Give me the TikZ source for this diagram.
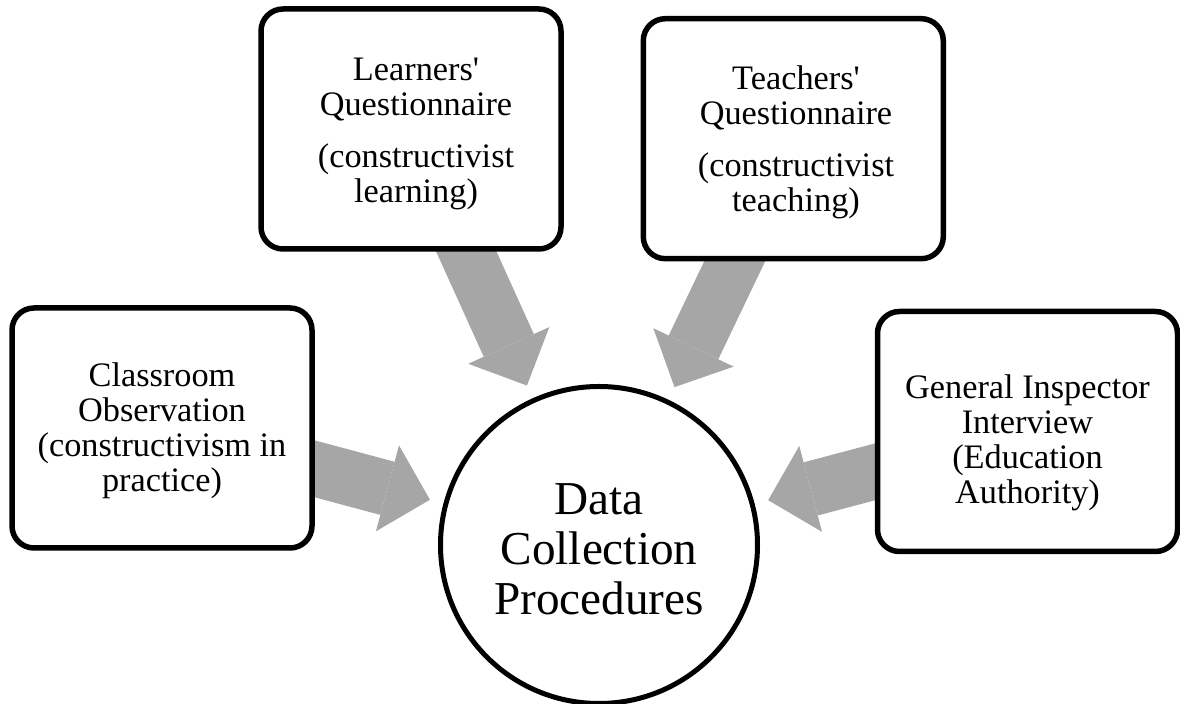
\documentclass[tikz,border=0pt]{standalone}
\usepackage{fontspec}
\setmainfont{Liberation Serif}
\usetikzlibrary{arrows.meta,backgrounds}
\definecolor{arrowgray}{RGB}{166,166,166}
\begin{document}
\begin{tikzpicture}[x=0.5pt,y=-0.5pt,
  box/.style={draw=black, line width=2.75pt, fill=white, rounded corners=11pt,
    minimum width=150pt, minimum height=120pt, inner sep=0pt},
  hub/.style={circle, draw=black, line width=2.5pt, fill=white,
    minimum size=158.5pt, inner sep=0pt},
  boxtext/.style={align=center, font=\fontsize{17.15pt}{17.5pt}\selectfont, inner sep=0pt},
  hubtext/.style={align=center, font=\fontsize{23.6pt}{25pt}\selectfont, inner sep=0pt},
  bigarrow/.style={draw=arrowgray, line width=27.5pt,
    -{Triangle[length=22pt,width=44.5pt,line width=0pt]},
    shorten >=7pt, shorten <=-12pt}
]
\useasboundingbox (0,0) rectangle (1180,704);

% boxes and hub
\node[box] (cls) at (162,428) {};
\node[box] (lrn) at (411,129) {};
\node[box] (tch) at (793.3,138.7) {};
\node[box] (gen) at (1027.5,431.5) {};
\node[hub] (hub) at (599,545) {};

% texts
\node[boxtext] (clsT) at (162,431) {Classroom\\Observation\\(constructivism in\\practice)};
\node[boxtext] (lrnT) at (416,134) {Learners\textquotesingle\\Questionnaire\\[8.35pt](constructivist\\learning)};
\node[boxtext] (tchT) at (796,142) {Teachers\textquotesingle\\Questionnaire\\[8.35pt](constructivist\\teaching)};
\node[boxtext] (genT) at (1027.5,443) {General Inspector\\Interview\\(Education\\Authority)};
\node[hubtext] (hubT) at (599,549.5) {Data\\Collection\\Procedures};

% arrows
\begin{pgfonlayer}{background}
\draw[bigarrow] (cls) -- (hub);
\draw[bigarrow] (lrn) -- (hub);
\draw[bigarrow] (tch) -- (hub);
\draw[bigarrow] (gen) -- (hub);
\end{pgfonlayer}
\end{tikzpicture}
\end{document}
